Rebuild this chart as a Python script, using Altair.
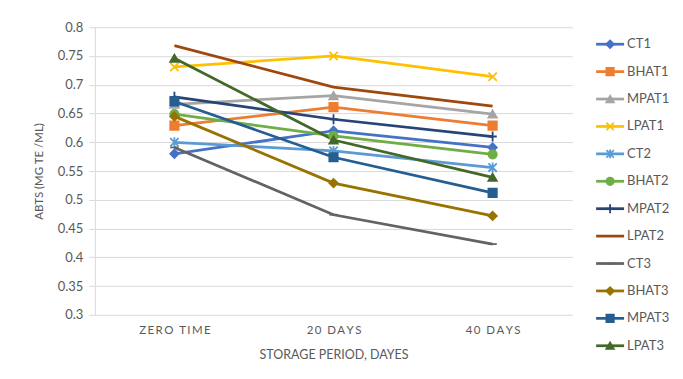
import altair as alt
import pandas as pd

categories = ["ZERO TIME", "20 DAYS", "40 DAYS"]
series = ["CT1", "BHAT1", "MPAT1", "LPAT1", "CT2", "BHAT2",
          "MPAT2", "LPAT2", "CT3", "BHAT3", "MPAT3", "LPAT3"]

CT1 = [0.580, 0.620, 0.591]
BHAT1 = [0.629, 0.661, 0.629]
MPAT1 = [0.666, 0.681, 0.649]
LPAT1 = [0.731, 0.750, 0.714]
CT2 = [0.600, 0.585, 0.556]
BHAT2 = [0.649, 0.611, 0.579]
MPAT2 = [0.679, 0.640, 0.610]
LPAT2 = [0.768, 0.696, 0.663]
CT3 = [0.591, 0.474, 0.423]
BHAT3 = [0.645, 0.529, 0.472]
MPAT3 = [0.671, 0.574, 0.512]
LPAT3 = [0.746, 0.604, 0.539]

values = [CT1, BHAT1, MPAT1, LPAT1, CT2, BHAT2, MPAT2, LPAT2, CT3, BHAT3, MPAT3, LPAT3]

colors = ["#4472C4", "#ED7D31", "#A5A5A5", "#FFC000", "#5B9BD5", "#70AD47",
          "#264478", "#9E480E", "#636363", "#997300", "#255E91", "#43682B"]

X_PATH = "M-1,-1L1,1M-1,1L1,-1"
STAR_PATH = "M-1,-1L1,1M-1,1L1,-1M0,-1.2L0,1.2"
PLUS_PATH = "M0,-1.2L0,1.2M-1,0L1,0"
DASH_PATH = "M-1,0L1,0"
NONE_PATH = "M0,0"
shapes = ["diamond", "square", "triangle-up", X_PATH, STAR_PATH, "circle",
          PLUS_PATH, NONE_PATH, DASH_PATH, "diamond", "square", "triangle-up"]

rows = []
for s, vals in zip(series, values):
    for c, v in zip(categories, vals):
        rows.append({"series": s, "period": c, "value": v})
df = pd.DataFrame(rows)
leg_df = pd.DataFrame({"series": series})

FONT = "Lato"
GRAY = "#595959"

color_scale = alt.Scale(domain=series, range=colors)
shape_scale = alt.Scale(domain=series, range=shapes)

base = alt.Chart(df).encode(
    x=alt.X("period:N", sort=categories, title="STORAGE PERIOD, DAYES",
            scale=alt.Scale(paddingInner=0, paddingOuter=0.5),
            axis=alt.Axis(labelAngle=0, ticks=False, domain=False, grid=False,
                          labelFont=FONT, labelFontSize=11.5, labelColor=GRAY,
                          labelPadding=10, titleFont=FONT, titleFontSize=12.5,
                          titleFontWeight="normal", titleColor=GRAY, titlePadding=12,
                          labelExpr="join(split(datum.label, ''), '\u2009')")),
    y=alt.Y("value:Q", title="ABTS (MG TE /ML)",
            scale=alt.Scale(domain=[0.3, 0.8], nice=False, zero=False),
            axis=alt.Axis(values=[0.3, 0.35, 0.4, 0.45, 0.5, 0.55, 0.6, 0.65, 0.7, 0.75, 0.8],
                          format=".2~f", labelFont=FONT, labelFontSize=13,
                          labelColor=GRAY, gridColor="#D9D9D9", domainColor="#D9D9D9",
                          tickColor="#D9D9D9", tickSize=6, labelPadding=6,
                          titleFont=FONT, titleFontSize=11.5, titleFontWeight="normal",
                          titleColor=GRAY, titlePadding=13)),
)

lines = base.mark_line(strokeWidth=2.75).encode(
    color=alt.Color("series:N", scale=color_scale, legend=None),
    detail="series:N",
)
points = base.mark_point(filled=True, size=70, strokeWidth=1.8, opacity=1).encode(
    color=alt.Color("series:N", scale=color_scale, legend=None),
    stroke=alt.Stroke("series:N", scale=color_scale, legend=None),
    shape=alt.Shape("series:N", scale=shape_scale, legend=None),
)
main = alt.layer(lines, points).properties(width=478, height=288)

leg_y = alt.Y("series:N", sort=series, axis=None,
              scale=alt.Scale(type="point", domain=series, range=[17, 319], padding=0))
leg_base = alt.Chart(leg_df).encode(y=leg_y)
leg_rule = leg_base.mark_rule(strokeWidth=2.75).encode(
    x=alt.value(0), x2=alt.value(28),
    color=alt.Color("series:N", scale=color_scale, legend=None))
leg_pt = leg_base.mark_point(filled=True, size=55, strokeWidth=1.8, opacity=1).encode(
    x=alt.value(14),
    color=alt.Color("series:N", scale=color_scale, legend=None),
    stroke=alt.Stroke("series:N", scale=color_scale, legend=None),
    shape=alt.Shape("series:N", scale=shape_scale, legend=None))
leg_txt = leg_base.mark_text(align="left", baseline="middle", font=FONT,
                             fontSize=13, color=GRAY).encode(
    x=alt.value(31), text="series:N")
legend = alt.layer(leg_rule, leg_pt, leg_txt).properties(width=70, height=330)

chart = alt.hconcat(main, legend, spacing=22).resolve_scale(
    color="shared", shape="shared"
).properties(padding={"left": 25, "top": 13, "right": 5, "bottom": 5}
).configure_view(stroke=None)

chart.save("out.html", embed_options={"renderer": "svg", "actions": False})
